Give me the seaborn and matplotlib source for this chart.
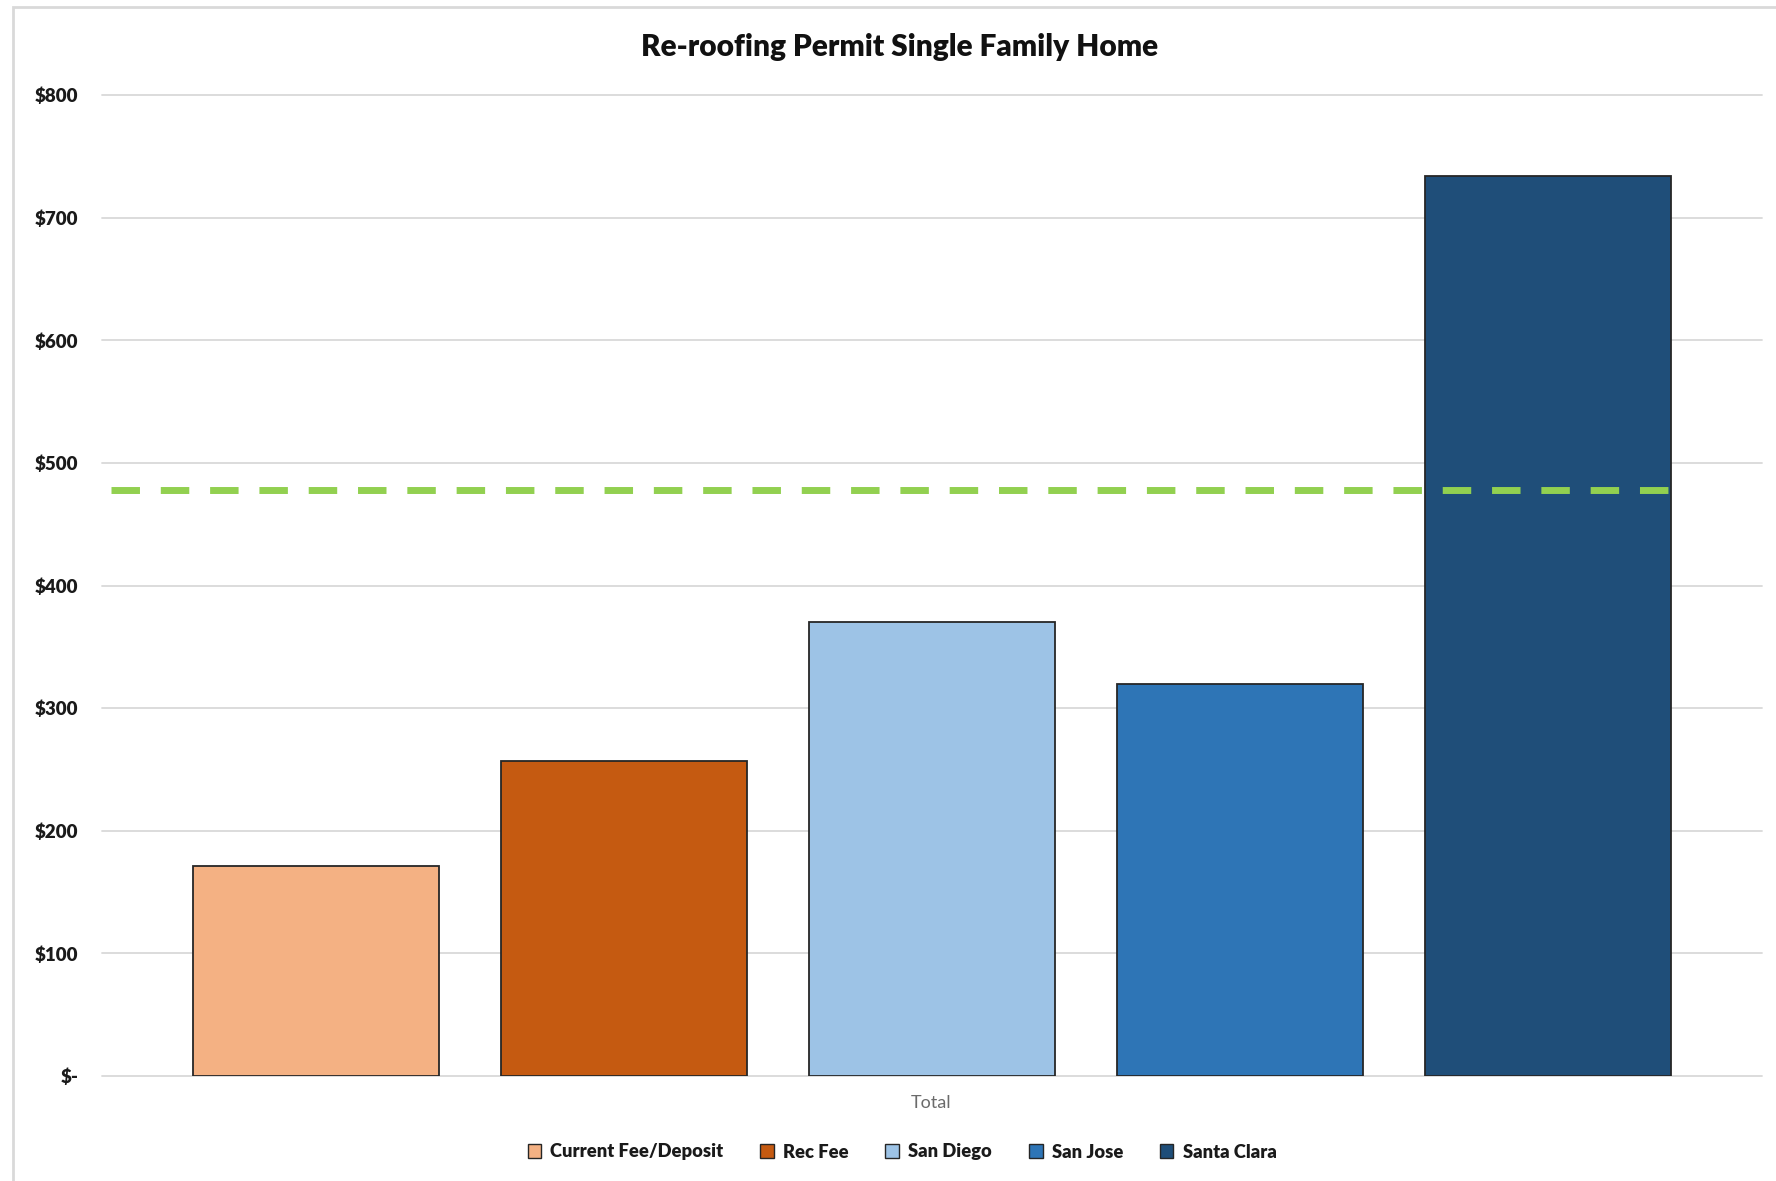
import matplotlib
matplotlib.use("Agg")
import matplotlib.pyplot as plt
import seaborn as sns
import pandas as pd
from matplotlib.patches import Patch, Rectangle

# ---- data ----
series = ["Current Fee/Deposit", "Rec Fee", "San Diego", "San Jose", "Santa Clara"]
values = [171, 257, 370, 320, 734]
colors = ["#F4B183", "#C55A11", "#9DC3E6", "#2E75B6", "#1F4E79"]
average_value = 478
category_label = "Total"
title = "Re-roofing Permit Single Family Home"
y_ticks = [0, 100, 200, 300, 400, 500, 600, 700, 800]
y_tick_labels = ["$-", "$100", "$200", "$300", "$400", "$500", "$600", "$700", "$800"]

df = pd.DataFrame({"series": series, "value": values})

sns.set_theme(style="white")
plt.rcParams["font.family"] = ["Lato", "DejaVu Sans"]

W, H = 1776, 1181
fig = plt.figure(figsize=(W / 100, H / 100), dpi=100)
ax = fig.add_axes([102 / W, 1 - 1076 / H, (1762 - 102) / W, (1076 - 95) / H])

# gridlines
for t in y_ticks:
    ax.axhline(t, color="#d9d9d9", lw=1.3, zorder=0, clip_on=False)

sns.barplot(data=df, x="series", y="value", hue="series", palette=colors,
            width=0.8, saturation=1, edgecolor="#262626", linewidth=1.3,
            legend=False, ax=ax, zorder=2)

ax.plot([-0.665, 4.455], [average_value, average_value], color="#92D050",
        lw=5, dashes=(4.1, 3.0), zorder=3, solid_capstyle="butt",
        dash_capstyle="butt")

ax.set_xlim(-0.695, 4.695)
ax.set_ylim(0, 800)
ax.set_yticks(y_ticks)
ax.set_yticklabels(y_tick_labels, fontsize=13.5, fontweight="heavy", color="#1a1a1a")
ax.tick_params(axis="y", length=0, pad=17)
ax.set_xticks([])
ax.set_xlabel("")
ax.set_ylabel("")
for s in ax.spines.values():
    s.set_visible(False)

fig.text(931 / W, 1 - 1103 / H, category_label, ha="center", va="center",
         fontsize=13, color="#6b6b6b")
fig.text(900 / W, 1 - 47 / H, title, ha="center", va="center",
         fontsize=21.5, fontweight="heavy", color="#111111")

handles = [Patch(facecolor=c, edgecolor="#262626", linewidth=1.0) for c in colors]
leg = fig.legend(handles, series, loc="center", bbox_to_anchor=(902 / W, 1 - 1152 / H),
                 ncol=5, frameon=False, handlelength=0.75, handleheight=0.75,
                 handletextpad=0.5, columnspacing=2.0,
                 prop={"family": ["Lato", "DejaVu Sans"], "weight": "heavy", "size": 13.2})
for t in leg.get_texts():
    t.set_color("#1a1a1a")

# chart border
fig.patches.append(Rectangle((13 / W, -0.01), 1.02, 1.004, transform=fig.transFigure,
                             fill=False, edgecolor="#d9d9d9", lw=2, zorder=0))

fig.savefig("out.png", dpi=100, facecolor="white")
